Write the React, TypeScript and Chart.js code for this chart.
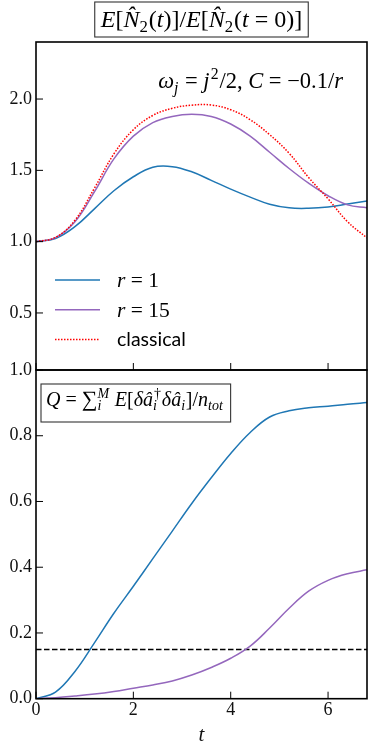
import React, { useEffect, useRef } from 'react';
import { Chart, registerables } from 'chart.js';

Chart.register(...registerables);

// ---------- data ----------
const T = [0, 0.4, 0.8, 1.2, 1.6, 2.0, 2.4, 2.8, 3.2, 3.6, 4.0, 4.4, 4.8, 5.2, 5.6, 6.0, 6.4, 6.8];
const TOP_R1 = [1.0, 1.022, 1.105, 1.23, 1.357, 1.455, 1.522, 1.526, 1.49, 1.43, 1.368, 1.312, 1.262, 1.237, 1.234, 1.243, 1.264, 1.285];
const TOP_R15 = [1.0, 1.028, 1.14, 1.35, 1.58, 1.74, 1.835, 1.878, 1.893, 1.878, 1.825, 1.74, 1.627, 1.513, 1.41, 1.322, 1.258, 1.238];
const TOP_CLASSICAL = [1.0, 1.03, 1.15, 1.375, 1.615, 1.785, 1.885, 1.935, 1.957, 1.958, 1.925, 1.855, 1.75, 1.62, 1.45, 1.3, 1.14, 1.026];
const Q_R1 = [0, 0.02, 0.083, 0.17, 0.26, 0.342, 0.426, 0.51, 0.594, 0.672, 0.746, 0.81, 0.857, 0.876, 0.885, 0.89, 0.896, 0.901];
const Q_R15 = [0, 0.003, 0.008, 0.014, 0.022, 0.032, 0.042, 0.054, 0.072, 0.095, 0.123, 0.16, 0.215, 0.275, 0.327, 0.36, 0.38, 0.392];
const Q_THRESHOLD = 0.15;

const X_RANGE = [0, 6.8];
const X_TICKS = [0, 2, 4, 6];
const TOP_Y_RANGE = [0.1, 2.4];
const TOP_Y_TICKS = [0.5, 1.0, 1.5, 2.0];
const BOT_Y_RANGE = [0, 1];
const BOT_Y_TICKS = [0, 0.2, 0.4, 0.6, 0.8, 1.0];
const SERIES_LABELS = ['r = 1', 'r = 15', 'classical'];
const X_TITLE = 't';

const BLUE = '#1f77b4';
const PURPLE = '#9467bd';
const RED = '#ff0000';

// ---------- rich text helpers ----------
type Seg = { t: string; it?: boolean; sans?: boolean; scale?: number; sub?: string; sup?: string };
const SERIF = '"Liberation Serif", "DejaVu Serif", serif';
const SANS = 'Lato, "Open Sans", sans-serif';
const font = (size: number, it?: boolean, sans?: boolean) =>
  `${it ? 'italic ' : ''}${size}px ${sans ? SANS : SERIF}`;
const isLetter = (s: string) => /[A-Za-z]/.test(s);

function drawRich(ctx: CanvasRenderingContext2D, segs: Seg[], x: number, y: number, size: number, measureOnly = false): number {
  ctx.save();
  ctx.fillStyle = '#000';
  ctx.textBaseline = 'alphabetic';
  ctx.textAlign = 'left';
  let cx = x;
  for (const s of segs) {
    const f = size * (s.scale || 1);
    ctx.font = font(f, s.it, s.sans);
    if (!measureOnly) ctx.fillText(s.t, cx, y);
    let w = ctx.measureText(s.t).width;
    if (s.sub || s.sup) {
      const ss = size * 0.7;
      let sw = 0;
      const shift = s.it ? size * 0.05 : 0;
      if (s.sup) {
        ctx.font = font(ss, isLetter(s.sup));
        if (!measureOnly) ctx.fillText(s.sup, cx + w + shift, y - size * 0.4);
        sw = Math.max(sw, ctx.measureText(s.sup).width + shift);
      }
      if (s.sub) {
        ctx.font = font(ss, isLetter(s.sub));
        if (!measureOnly) ctx.fillText(s.sub, cx + w, y + size * 0.22);
        sw = Math.max(sw, ctx.measureText(s.sub).width);
      }
      w += sw + size * 0.04;
    }
    cx += w;
  }
  ctx.restore();
  return cx - x;
}

const TITLE_SEGS: Seg[] = [
  { t: 'E', it: true }, { t: '[' }, { t: 'N\u0302', it: true, sub: '2' }, { t: '(' }, { t: 't', it: true }, { t: ')]/' },
  { t: 'E', it: true }, { t: '[' }, { t: 'N\u0302', it: true, sub: '2' }, { t: '(' }, { t: 't', it: true }, { t: ' = 0)]' },
];
const NOTE_SEGS: Seg[] = [
  { t: 'ω', it: true, sub: 'j' }, { t: ' = ' }, { t: 'j', it: true, sup: '2' }, { t: '/2, ' },
  { t: 'C', it: true }, { t: ' = −0.1/' }, { t: 'r', it: true },
];
const Q_SEGS: Seg[] = [
  { t: 'Q', it: true }, { t: ' = ' }, { t: '∑', scale: 1.1, sub: 'i', sup: 'M' }, { t: ' ' },
  { t: 'E', it: true }, { t: '[' }, { t: 'δâ', it: true, sub: 'i', sup: '†' }, { t: 'δâ', it: true, sub: 'i' },
  { t: ']/' }, { t: 'n', it: true, sub: 'tot' },
];
const labelSegs = (label: string): Seg[] =>
  label.startsWith('r ') ? [{ t: 'r', it: true }, { t: label.slice(1) }] : [{ t: label, sans: true }];

// ---------- plugins ----------
function drawFrameAndTicks(chart: any) {
  const { ctx, chartArea: a, scales } = chart;
  ctx.save();
  ctx.strokeStyle = '#000';
  ctx.lineWidth = 1;
  ctx.beginPath();
  for (const tk of scales.y.ticks) {
    const py = scales.y.getPixelForValue(tk.value);
    ctx.moveTo(a.left, py);
    ctx.lineTo(a.left + 7, py);
  }
  for (const tk of scales.x.ticks) {
    const px = scales.x.getPixelForValue(tk.value);
    ctx.moveTo(px, a.bottom);
    ctx.lineTo(px, a.bottom - 7);
  }
  ctx.stroke();
  ctx.lineWidth = 1.6;
  ctx.strokeRect(a.left, a.top, a.right - a.left, a.bottom - a.top);
  ctx.restore();
}

const topDecor = {
  id: 'topDecor',
  afterDraw(chart: any) {
    const { ctx, chartArea: a } = chart;
    drawFrameAndTicks(chart);
    const size = 24;
    const tw = drawRich(ctx, TITLE_SEGS, 0, 0, size, true);
    const cx = (a.left + a.right) / 2;
    const bx = cx - tw / 2 - 6;
    ctx.save();
    ctx.strokeStyle = '#333';
    ctx.lineWidth = 1.1;
    ctx.fillStyle = '#fff';
    ctx.fillRect(bx, a.top - 40, tw + 12, 35);
    ctx.strokeRect(bx, a.top - 40, tw + 12, 35);
    ctx.restore();
    drawRich(ctx, TITLE_SEGS, cx - tw / 2, a.top - 15, size);
    const nw = drawRich(ctx, NOTE_SEGS, 0, 0, 22.5, true);
    drawRich(ctx, NOTE_SEGS, a.right - 24 - nw, a.top + 46, 22.5);
    const ds = chart.data.datasets;
    for (let i = 0; i < 3; i++) {
      const d = ds[i];
      const y = a.top + 238 + i * 29.7;
      ctx.save();
      ctx.strokeStyle = d.borderColor;
      ctx.lineWidth = d.borderWidth;
      ctx.setLineDash(d.borderDash || []);
      ctx.beginPath();
      ctx.moveTo(a.left + 19, y);
      ctx.lineTo(a.left + 64, y);
      ctx.stroke();
      ctx.restore();
      drawRich(ctx, labelSegs(d.label), a.left + 81, y + 7, i === 2 ? 19.5 : 21.5);
    }
  },
};

const botDecor = {
  id: 'botDecor',
  afterDraw(chart: any) {
    const { ctx, chartArea: a } = chart;
    drawFrameAndTicks(chart);
    const size = 20;
    const w = drawRich(ctx, Q_SEGS, 0, 0, size, true);
    ctx.save();
    ctx.strokeStyle = '#333';
    ctx.lineWidth = 1.1;
    ctx.fillStyle = '#fff';
    ctx.fillRect(a.left + 5, a.top + 14, w + 12, 38);
    ctx.strokeRect(a.left + 5, a.top + 14, w + 12, 38);
    ctx.restore();
    drawRich(ctx, Q_SEGS, a.left + 10, a.top + 36, size);
  },
};

// ---------- scales ----------
const tickFont = { family: SERIF, size: 18 };
function yScale(range: number[], ticks: number[]) {
  return {
    type: 'linear' as const,
    position: 'left' as const,
    min: range[0],
    max: range[1],
    afterBuildTicks: (s: any) => { s.ticks = ticks.map((v) => ({ value: v })); },
    afterFit: (s: any) => { s.width = 36; },
    grid: { display: false, drawTicks: false },
    border: { display: false },
    ticks: { padding: 4, color: '#111', font: tickFont, callback: (v: any) => Number(v).toFixed(1) },
  };
}
function xScale(showLabels: boolean) {
  return {
    type: 'linear' as const,
    position: 'bottom' as const,
    min: X_RANGE[0],
    max: X_RANGE[1],
    afterBuildTicks: (s: any) => { s.ticks = X_TICKS.map((v) => ({ value: v })); },
    afterFit: (s: any) => { s.height = showLabels ? 53.3 : 0; },
    grid: { display: false, drawTicks: false },
    border: { display: false },
    ticks: { display: showLabels, padding: 1, color: '#111', font: tickFont, autoSkip: false, maxRotation: 0, callback: (v: any) => String(v) },
    title: {
      display: showLabels,
      text: X_TITLE,
      color: '#111',
      font: { family: SERIF, size: 21, style: 'italic' as const },
      padding: { top: 0, bottom: 4 },
    },
  };
}

const pts = (ys: number[]) => T.map((t, i) => ({ x: t, y: ys[i] }));
const line = (label: string, ys: number[], color: string, order: number, dash: number[] = []) => ({
  label,
  data: pts(ys),
  borderColor: color,
  backgroundColor: color,
  borderWidth: 1.5,
  borderDash: dash,
  pointRadius: 0,
  fill: false,
  tension: 0.4,
  order,
});

const baseOptions = {
  responsive: false,
  animation: false as const,
  events: [] as any[],
  plugins: { legend: { display: false }, tooltip: { enabled: false } },
};

export default function App() {
  const topRef = useRef<HTMLCanvasElement>(null);
  const botRef = useRef<HTMLCanvasElement>(null);

  useEffect(() => {
    const top = new Chart(topRef.current!, {
      type: 'line',
      data: {
        datasets: [
          line(SERIES_LABELS[0], TOP_R1, BLUE, 3),
          line(SERIES_LABELS[1], TOP_R15, PURPLE, 2),
          line(SERIES_LABELS[2], TOP_CLASSICAL, RED, 1, [1.5, 1.5]),
        ],
      },
      options: {
        ...baseOptions,
        layout: { autoPadding: false, padding: { top: 42, right: 7, bottom: 30, left: 0 } },
        scales: { x: xScale(false), y: yScale(TOP_Y_RANGE, TOP_Y_TICKS) },
      } as any,
      plugins: [topDecor],
    });
    const bot = new Chart(botRef.current!, {
      type: 'line',
      data: {
        datasets: [
          line(SERIES_LABELS[0], Q_R1, BLUE, 3),
          line(SERIES_LABELS[1], Q_R15, PURPLE, 2),
          {
            label: 'threshold',
            data: [{ x: X_RANGE[0], y: Q_THRESHOLD }, { x: X_RANGE[1], y: Q_THRESHOLD }],
            borderColor: '#000',
            borderWidth: 1.5,
            borderDash: [5.5, 2.5],
            pointRadius: 0,
            fill: false,
            order: 4,
          },
        ],
      },
      options: {
        ...baseOptions,
        layout: { autoPadding: false, padding: { top: 30, right: 7, bottom: 0, left: 0 } },
        scales: { x: xScale(true), y: yScale(BOT_Y_RANGE, BOT_Y_TICKS) },
      } as any,
      plugins: [botDecor],
    });
    return () => {
      top.destroy();
      bot.destroy();
    };
  }, []);

  return (
    <div style={{ position: 'absolute', left: 0, top: 0, width: 374, height: 752, background: '#fff' }}>
      <canvas ref={topRef} width={374} height={400} style={{ position: 'absolute', left: 0, top: 0 }} />
      <canvas ref={botRef} width={374} height={412} style={{ position: 'absolute', left: 0, top: 340 }} />
    </div>
  );
}
